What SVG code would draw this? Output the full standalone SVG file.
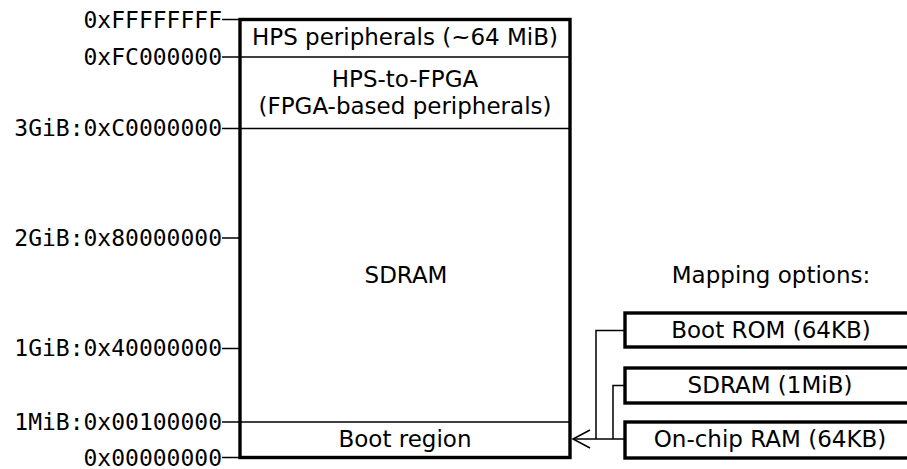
<svg xmlns="http://www.w3.org/2000/svg" width="907" height="469" viewBox="0 0 907 469">
<style>
.mono{font-family:"DejaVu Sans Mono","Liberation Mono",monospace;font-size:23px;fill:#000;text-anchor:end}
.sans{font-family:"DejaVu Sans","Liberation Sans",sans-serif;font-size:23px;fill:#000;text-anchor:middle}
.thick{fill:#fff;stroke:#000;stroke-width:3.4}
.thin{fill:none;stroke:#000;stroke-width:1.5}
</style>
<rect width="907" height="469" fill="#fff"/>
<g id="memory-map">
<rect class="thick" x="240" y="19.5" width="330" height="438"/>
<line class="thin" x1="240" y1="57" x2="570" y2="57"/>
<line class="thin" x1="240" y1="128.5" x2="570" y2="128.5"/>
<line class="thin" x1="240" y1="422" x2="570" y2="422"/>
<text class="sans" x="405" y="45">HPS peripherals (~64 MiB)</text>
<text class="sans" x="405" y="87">HPS-to-FPGA</text>
<text class="sans" x="405" y="114">(FPGA-based peripherals)</text>
<text class="sans" x="406" y="283">SDRAM</text>
<text class="sans" x="405" y="447">Boot region</text>
</g>
<g id="addresses">
<line class="thin" x1="222" y1="19.5" x2="240" y2="19.5"/>
<line class="thin" x1="222" y1="57" x2="240" y2="57"/>
<line class="thin" x1="222" y1="128.5" x2="240" y2="128.5"/>
<line class="thin" x1="222" y1="238" x2="240" y2="238"/>
<line class="thin" x1="222" y1="348.5" x2="240" y2="348.5"/>
<line class="thin" x1="222" y1="422" x2="240" y2="422"/>
<line class="thin" x1="222" y1="457.5" x2="240" y2="457.5"/>
<text class="mono" x="222" y="28">0xFFFFFFFF</text>
<text class="mono" x="222" y="65">0xFC000000</text>
<text class="mono" x="222" y="136">3GiB:0xC0000000</text>
<text class="mono" x="222" y="246">2GiB:0x80000000</text>
<text class="mono" x="222" y="356">1GiB:0x40000000</text>
<text class="mono" x="222" y="430">1MiB:0x00100000</text>
<text class="mono" x="222" y="465.5">0x00000000</text>
</g>
<text class="sans" x="771" y="283">Mapping options:</text>
<g id="boot-rom">
<rect class="thick" x="625" y="313" width="300" height="34"/>
<text class="sans" x="771" y="338">Boot ROM (64KB)</text>
</g>
<g id="sdram-1mib">
<rect class="thick" x="625" y="368" width="300" height="35"/>
<text class="sans" x="770" y="393">SDRAM (1MiB)</text>
</g>
<g id="on-chip-ram">
<rect class="thick" x="625" y="422" width="300" height="36"/>
<text class="sans" x="770" y="447">On-chip RAM (64KB)</text>
</g>
<g id="connectors">
<polyline class="thin" points="625,330.5 596,330.5 596,439"/>
<polyline class="thin" points="625,385.5 613,385.5 613,439"/>
<line class="thin" x1="625" y1="439" x2="573" y2="439"/>
<polyline class="thin" points="590,430 573,439 590,448"/>
</g>
</svg>
